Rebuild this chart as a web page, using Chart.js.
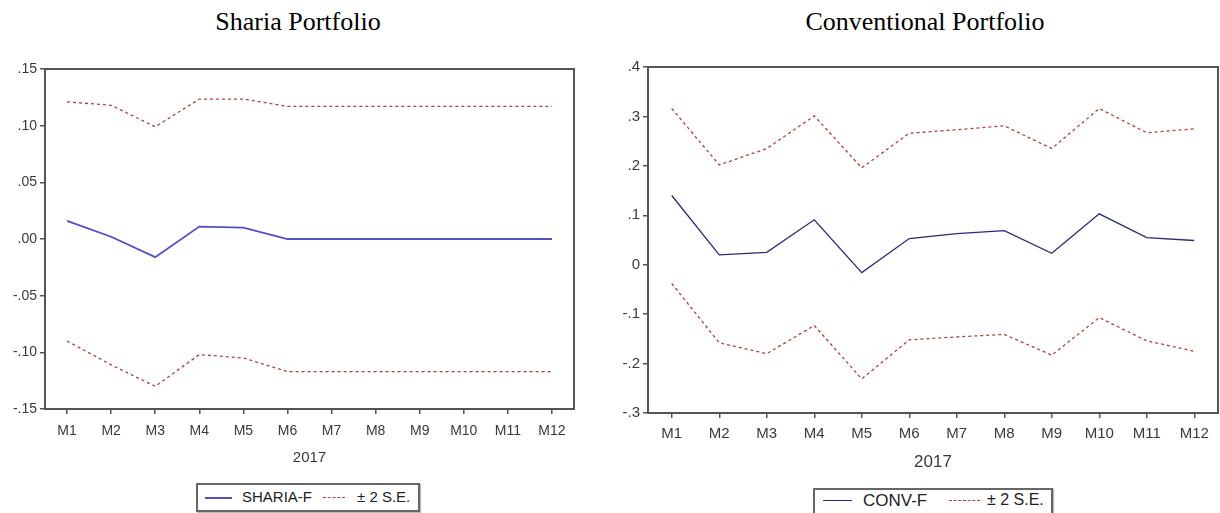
<!DOCTYPE html>
<html>
<head>
<meta charset="utf-8">
<script src="https://cdn.jsdelivr.net/npm/chart.js@4.4.0/dist/chart.umd.min.js"></script>
<style>
  body { margin: 0; width: 1220px; height: 513px; background: #fff; position: relative; overflow: hidden;
         font-family: "Liberation Sans", Arial, sans-serif; }
  .title { position: absolute; top: 9px; font-family: "Liberation Serif", "Times New Roman", serif;
           font-size: 26px; line-height: 26px; color: #000; transform: translateX(-50%); white-space: nowrap; }
  .wrap { position: absolute; top: 55px; height: 420px; }
  .legend { position: absolute; background: #fff; border: 2px solid #666; box-shadow: 1px 1px 1px #bbb; box-sizing: border-box; }
  .legend span { position: absolute; white-space: nowrap; color: #222; }
  .legend i { position: absolute; height: 0; }
</style>
</head>
<body>
<div class="title" style="left:298px">Sharia Portfolio</div>
<div class="title" style="left:925px">Conventional Portfolio</div>

<div class="wrap" style="left:0;width:600px"><canvas id="sharia"></canvas></div>
<div class="wrap" style="left:600px;width:620px"><canvas id="conv"></canvas></div>

<div class="legend" style="left:196px;top:483px;width:224px;height:29px;font-size:15px">
  <i style="left:7px;top:12px;width:27px;border-top:2px solid #5050c0"></i>
  <span style="left:44px;top:3px">SHARIA-F</span>
  <i style="left:125px;top:12px;width:22px;border-top:1.5px dashed #b83c3c"></i>
  <span style="left:159px;top:3px">± 2 S.E.</span>
</div>
<div class="legend" style="left:813px;top:488px;width:240px;height:32px;font-size:16px">
  <i style="left:8px;top:10px;width:29px;border-top:1.5px solid #2a2a78"></i>
  <span style="left:48px;top:1px;font-size:17px">CONV-F</span>
  <i style="left:134px;top:10px;width:31px;border-top:1.5px dashed #b83c3c"></i>
  <span style="left:172px;top:1px">± 2 S.E.</span>
</div>

<script>
const months = ["M1", "M2", "M3", "M4", "M5", "M6", "M7", "M8", "M9", "M10", "M11", "M12"];
const yearLabel = "2017";

// Sharia portfolio forecast and ±2 S.E. band
const shariaF     = [0.016, 0.002, -0.016, 0.011, 0.010, 0.000, 0.000, 0.000, 0.000, 0.000, 0.000, 0.000];
const shariaUpper = [0.121, 0.118, 0.099, 0.1235, 0.1235, 0.117, 0.117, 0.117, 0.117, 0.117, 0.117, 0.117];
const shariaLower = [-0.090, -0.111, -0.130, -0.102, -0.105, -0.117, -0.117, -0.117, -0.117, -0.117, -0.117, -0.117];
const shariaYTicks  = [-0.15, -0.10, -0.05, 0, 0.05, 0.10, 0.15];
const shariaYLabels = ["-.15", "-.10", "-.05", ".00", ".05", ".10", ".15"];

// Conventional portfolio forecast and ±2 S.E. band
const convF     = [0.140, 0.020, 0.025, 0.091, -0.016, 0.053, 0.063, 0.069, 0.023, 0.103, 0.055, 0.049];
const convUpper = [0.316, 0.202, 0.235, 0.301, 0.196, 0.266, 0.273, 0.281, 0.235, 0.316, 0.267, 0.275];
const convLower = [-0.038, -0.158, -0.180, -0.123, -0.231, -0.152, -0.146, -0.141, -0.183, -0.107, -0.154, -0.175];
const convYTicks  = [-0.3, -0.2, -0.1, 0, 0.1, 0.2, 0.3, 0.4];
const convYLabels = ["-.3", "-.2", "-.1", "0", ".1", ".2", ".3", ".4"];

const frame = {
  id: "frame",
  afterDraw(chart) {
    const { ctx, chartArea: a } = chart;
    ctx.save();
    ctx.strokeStyle = "#555";
    ctx.lineWidth = 2;
    ctx.strokeRect(a.left, a.top, a.right - a.left, a.bottom - a.top);
    ctx.restore();
  }
};

function makeChart(id, o) {
  const bandStyle = { borderColor: "#b83c3c", borderWidth: 1.3, borderDash: [3, 3], pointRadius: 0, tension: 0 };
  return new Chart(document.getElementById(id), {
    type: "line",
    data: {
      labels: months,
      datasets: [
        { label: o.name, data: o.f, borderColor: o.color, borderWidth: o.width, pointRadius: 0, tension: 0 },
        { label: "upper", data: o.upper, ...bandStyle },
        { label: "lower", data: o.lower, ...bandStyle }
      ]
    },
    options: {
      responsive: true,
      maintainAspectRatio: false,
      animation: false,
      layout: { padding: o.padding },
      plugins: { legend: { display: false }, tooltip: { enabled: false } },
      scales: {
        x: {
          offset: true,
          grid: { drawOnChartArea: false, drawTicks: true, tickLength: 5, color: "#555", lineWidth: 1.5 },
          border: { display: false },
          ticks: { color: "#3a3a3a", font: { size: o.font }, padding: o.xPad, maxRotation: 0, autoSkip: false },
          title: { display: true, text: yearLabel, color: "#3a3a3a", font: { size: o.yearFont },
                   padding: { top: 0, bottom: o.yearPad } },
          afterFit(s) { s.height = o.xHeight; }
        },
        y: {
          min: o.ticks[0],
          max: o.ticks[o.ticks.length - 1],
          grid: { drawOnChartArea: false, drawTicks: true, tickLength: 5, color: "#555", lineWidth: 1.5 },
          border: { display: false },
          afterBuildTicks(s) { s.ticks = o.ticks.map(v => ({ value: v })); },
          ticks: {
            color: "#3a3a3a", font: { size: o.yFont }, padding: 3,
            callback: (v, i) => o.labels[i]
          },
          afterFit(s) { s.width = o.yWidth; }
        }
      }
    },
    plugins: [frame]
  });
}

makeChart("sharia", {
  name: "SHARIA-F", f: shariaF, upper: shariaUpper, lower: shariaLower,
  color: "#5050c0", width: 1.8, ticks: shariaYTicks, labels: shariaYLabels,
  padding: { left: 0, right: 26, top: 14, bottom: 0 },
  yWidth: 45, xHeight: 66, xPad: 9, font: 14, yFont: 14, yearFont: 15, yearPad: 8
});

makeChart("conv", {
  name: "CONV-F", f: convF, upper: convUpper, lower: convLower,
  color: "#2a2a78", width: 1.3, ticks: convYTicks, labels: convYLabels,
  padding: { left: 0, right: 2, top: 11, bottom: 0 },
  yWidth: 48, xHeight: 62, xPad: 7, font: 15, yFont: 15, yearFont: 17, yearPad: 2
});
</script>
</body>
</html>
